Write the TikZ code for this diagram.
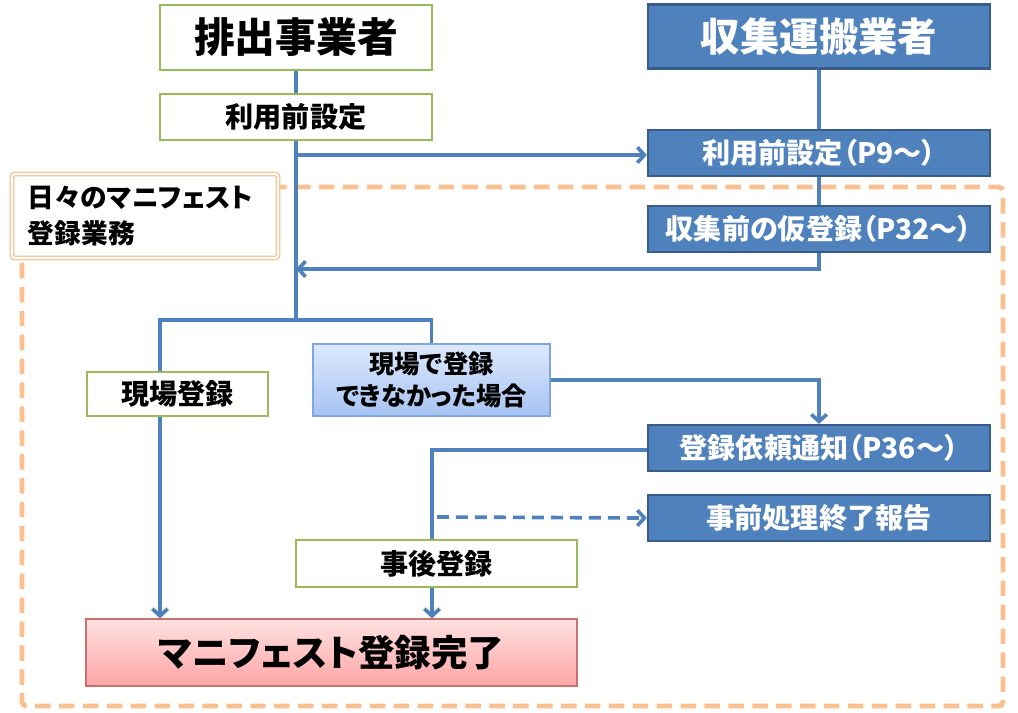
\documentclass[tikz,border=0pt]{standalone}
\usepackage{fontspec}
\setmainfont{Noto Sans CJK JP}[RawFeature=+palt]
\usetikzlibrary{arrows.meta,positioning,shadows}

\definecolor{flowblue}{HTML}{4F81BD}
\definecolor{flowblueline}{HTML}{385D8A}
\definecolor{boxgreen}{HTML}{9BBB59}
\definecolor{dashorange}{HTML}{FAC090}
\definecolor{paleblue}{HTML}{DDE9FD}
\definecolor{midblue}{HTML}{A6C3F2}
\definecolor{paleblueline}{HTML}{7EA6E0}
\definecolor{palered}{HTML}{FFE1E1}
\definecolor{midred}{HTML}{FFA5A5}
\definecolor{redline}{HTML}{C9716E}

\begin{document}
\begin{tikzpicture}[x=0.025cm, y=-0.025cm, >={Straight Barb[length=5pt, width=11pt]},
    flow/.style={draw=flowblue, line width=2.6pt},
    greenbox/.style={draw=boxgreen, line width=2pt, fill=white, text=black, inner sep=0pt,
        minimum height=1.15cm, font=\bfseries\fontsize{20}{24}\selectfont},
    bluebox/.style={draw=flowblueline, line width=1.6pt, fill=flowblue, text=white, inner sep=0pt,
        minimum width=8.55cm, minimum height=1.15cm, font=\bfseries\fontsize{20}{24}\selectfont,
        drop shadow={opacity=0.3, shadow xshift=1pt, shadow yshift=-1pt}},
    shaded/.style={line width=1pt, inner sep=0pt,
        drop shadow={opacity=0.3, shadow xshift=1pt, shadow yshift=-1pt}}]

    \useasboundingbox (0,0) rectangle (1018,712);

    % daily work area
    \draw[dashorange, line width=3.5pt, dash pattern=on 11pt off 6pt, rounded corners=3pt]
        (22,187) rectangle (1003,706);

    \node[greenbox, minimum width=6.8cm, minimum height=1.625cm,
        font=\bfseries\fontsize{29}{32}\selectfont] (src) at (296,37.5) {排出事業者};
    \node[greenbox, minimum width=6.8cm] (srcset) at (296,117) {利用前設定};

    \node[bluebox, minimum height=1.6cm,
        font=\bfseries\fontsize{28}{32}\selectfont] (col) at (819,36.5) {収集運搬業者};
    \node[bluebox] (colset) at (819,153) {利用前設定（P9～）};
    \node[bluebox] (colpre) at (819,229) {収集前の仮登録（P32～）};

    \node[draw=dashorange, double=white, double distance=1.5pt, line width=1pt,
        rounded corners=2pt, fill=white, minimum width=6.65cm, minimum height=2.1cm,
        text width=5.85cm, align=left, font=\bfseries\fontsize{19}{25}\selectfont]
        (tag) at (145,216) {日々のマニフェスト\\登録業務};

    \node[greenbox, minimum width=4.525cm, minimum height=1.1cm] (onsite) at (177.5,394) {現場登録};
    \node[shaded, draw=paleblueline, top color=paleblue, bottom color=midblue,
        minimum width=5.925cm, minimum height=1.8cm, align=center,
        font=\bfseries\fontsize{18}{23}\selectfont]
        (failed) at (431.5,380) {現場で登録\\できなかった場合};

    \node[bluebox] (req) at (819,448) {登録依頼通知（P36～）};
    \node[bluebox] (prep) at (819,518) {事前処理終了報告};

    \node[greenbox, minimum width=7.025cm, minimum height=1.175cm] (post) at (436.5,563.5) {事後登録};
    \node[shaded, draw=redline, top color=palered, bottom color=midred,
        minimum width=12.275cm, minimum height=1.675cm,
        font=\bfseries\fontsize{26}{30}\selectfont]
        (done) at (331.5,652.5) {マニフェスト登録完了};

    % connectors
    \coordinate (tapset) at (296,155);
    \coordinate (back) at (296,269);
    \coordinate (split) at (296,320);
    \coordinate (leftcol) at (160,320);
    \coordinate (postcol) at (432,450);
    \coordinate (notice) at (437,517);

    \draw[flow] (src) -- (srcset) -- (split);
    \draw[flow,->] (tapset) -- (colset.west |- tapset);
    \draw[flow] (col) -- (colset) -- (colpre);
    \draw[flow,->] (colpre.south) |- (back);

    \draw[flow] (split) -| (onsite.north -| leftcol);
    \draw[flow,->] (onsite.south -| leftcol) -- (done.north -| leftcol);
    \draw[flow] (split) -| (failed.north);
    \draw[flow,->] (failed.east) -| (req.north);

    \draw[flow] (req.west |- postcol) -- (postcol) -- (post.north -| postcol);
    \draw[flow,->,dash pattern=on 8.5pt off 5pt] (notice) -- (prep.west);
    \draw[flow,->] (post.south -| postcol) -- (done.north -| postcol);
\end{tikzpicture}
\end{document}
